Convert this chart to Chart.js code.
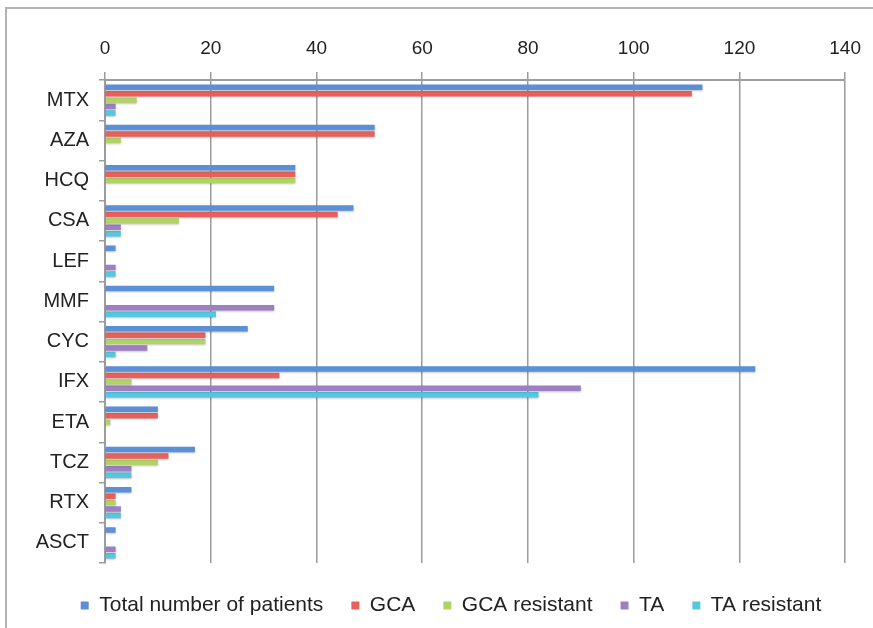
<!DOCTYPE html>
<html lang="en">
<head>
    <meta charset="UTF-8">
    <title>Treatments</title>
    <script src="https://cdn.jsdelivr.net/npm/chart.js"></script>
    <style>
        html, body { margin: 0; background: #fff; overflow: hidden; width: 873px; height: 628px; }
        .frame { position: absolute; left: 5px; top: 7px; width: 868px; height: 621px;
                 border-top: 2px solid #b4b4b4; border-left: 2px solid #b4b4b4; box-sizing: border-box; }
        .wrap { position: absolute; left: 0; top: 0; width: 873px; height: 628px; }
    </style>
</head>
<body>
    <div class="frame"></div>
    <div class="wrap"><canvas id="chart" width="873" height="628"></canvas></div>

    <script>
        const drugs = ['MTX', 'AZA', 'HCQ', 'CSA', 'LEF', 'MMF', 'CYC', 'IFX', 'ETA', 'TCZ', 'RTX', 'ASCT'];
        const totalPatients = [113, 51, 36, 47, 2, 32, 27, 123, 10, 17, 5, 2];
        const gca = [111, 51, 36, 44, 0, 0, 19, 33, 10, 12, 2, 0];
        const gcaResistant = [6, 3, 36, 14, 0, 0, 19, 5, 1, 10, 2, 0];
        const ta = [2, 0, 0, 3, 2, 32, 8, 90, 0, 5, 3, 2];
        const taResistant = [2, 0, 0, 3, 2, 21, 2, 82, 0, 5, 3, 2];
        const xTicks = [0, 20, 40, 60, 80, 100, 120, 140];

        const fontFam = '"Liberation Sans", Arial, sans-serif';
        const gridGray = '#9c9c9c';

        // soft shadow under the bars, like the office chart
        const barShadow = {
            id: 'barShadow',
            beforeDatasetsDraw(chart) {
                const c = chart.ctx;
                c.save();
                c.shadowColor = 'rgba(0,0,0,0.25)';
                c.shadowBlur = 2;
                c.shadowOffsetY = 1;
            },
            afterDatasetsDraw(chart) {
                chart.ctx.restore();
            }
        };

        // legend in the original sits a bit right of the plot centre and a little lower
        const legendShift = {
            id: 'legendShift',
            afterLayout(chart) {
                const lg = chart.legend;
                lg.left += 28;
                lg.right += 28;
                lg.top += 4;
                lg.bottom += 4;
            }
        };

        function ds(label, data, color) {
            return {
                label: label,
                data: data,
                backgroundColor: color,
                borderWidth: 0,
                categoryPercentage: 0.8,
                barPercentage: 0.85
            };
        }

        new Chart(document.getElementById('chart'), {
            type: 'bar',
            data: {
                labels: drugs,
                datasets: [
                    ds('Total number of patients', totalPatients, '#5b8fd6'),
                    ds('GCA', gca, '#e8605c'),
                    ds('GCA resistant', gcaResistant, '#b0d266'),
                    ds('TA', ta, '#9d80c2'),
                    ds('TA resistant', taResistant, '#55c7e0')
                ]
            },
            plugins: [barShadow, legendShift],
            options: {
                indexAxis: 'y',
                responsive: false,
                animation: false,
                layout: { padding: { left: 0, right: 27, top: 0, bottom: 6 } },
                scales: {
                    x: {
                        position: 'top',
                        min: 0,
                        max: 140,
                        afterBuildTicks(axis) {
                            axis.ticks = xTicks.map(v => ({ value: v }));
                        },
                        afterFit(axis) { axis.height = 80; },
                        border: { color: gridGray, width: 2 },
                        grid: { color: gridGray, lineWidth: 1.5, tickLength: 8 },
                        ticks: {
                            color: '#222',
                            padding: 12,
                            font: { family: fontFam, size: 19 }
                        }
                    },
                    y: {
                        afterFit(axis) { axis.width = 105; },
                        border: { color: gridGray, width: 2 },
                        grid: { drawOnChartArea: false, offset: true, color: gridGray, lineWidth: 1.5, tickLength: 6 },
                        ticks: {
                            color: '#222',
                            padding: 10,
                            font: { family: fontFam, size: 20 }
                        }
                    }
                },
                plugins: {
                    tooltip: { enabled: false },
                    legend: {
                        position: 'bottom',
                        labels: {
                            color: '#222',
                            boxWidth: 8,
                            boxHeight: 8,
                            padding: 28,
                            font: { family: fontFam, size: 21 }
                        }
                    }
                }
            }
        });
    </script>
</body>
</html>
